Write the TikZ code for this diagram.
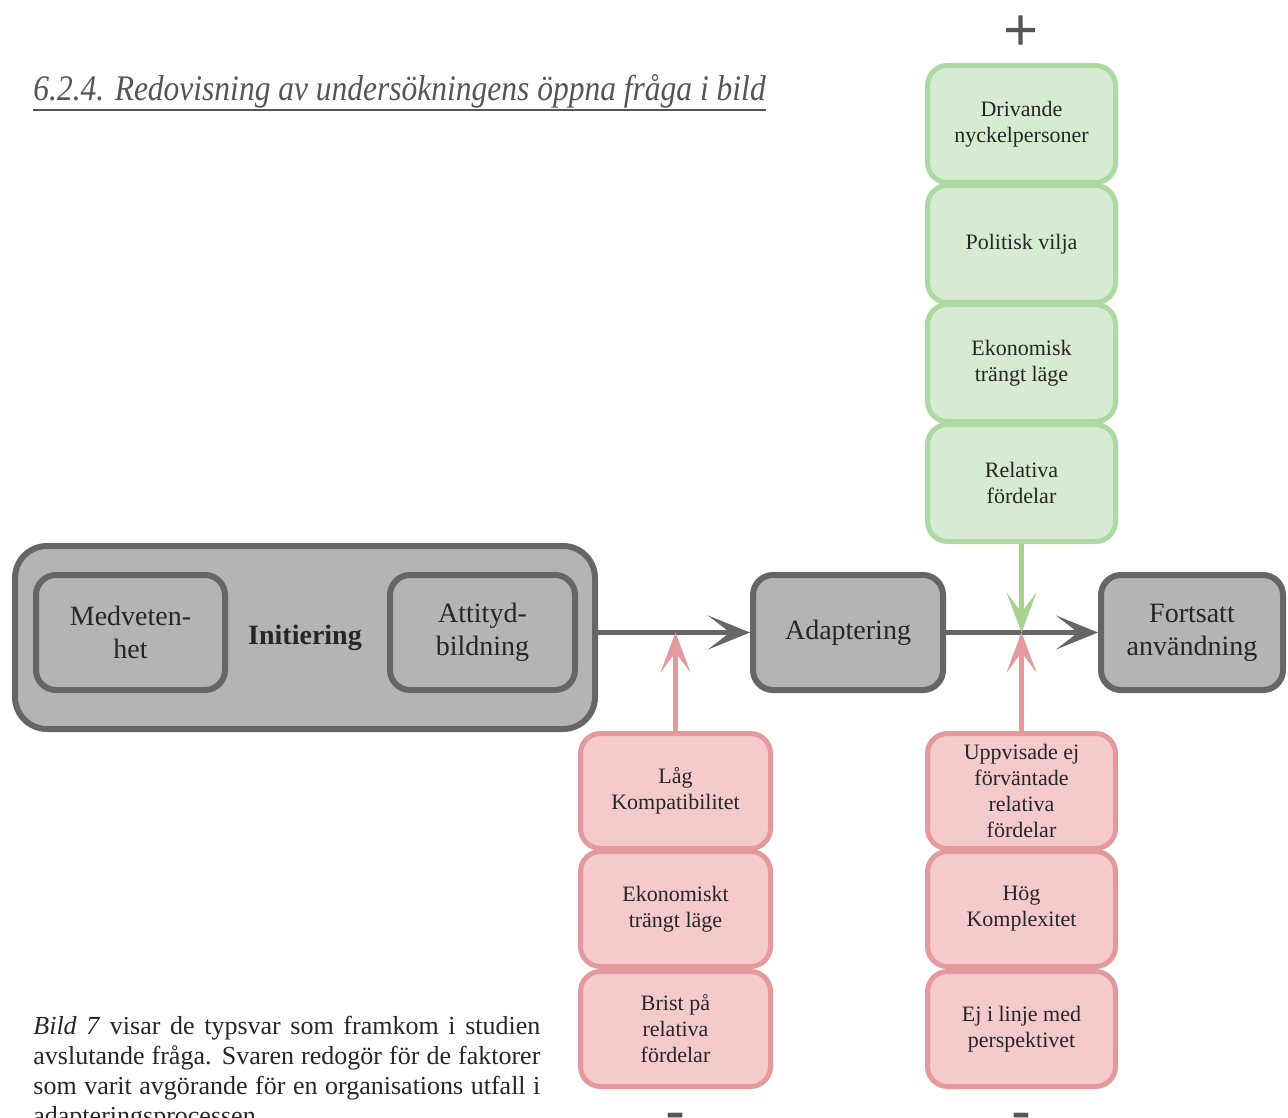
\documentclass[tikz,border=0pt]{standalone}
\usepackage{fontspec}
\setmainfont{Liberation Serif}
\newfontfamily\signfont{Liberation Sans}
\usetikzlibrary{arrows.meta}
\definecolor{gfill}{HTML}{B4B4B4}
\definecolor{gline}{HTML}{666666}
\definecolor{grfill}{HTML}{D6EBD1}
\definecolor{grline}{HTML}{ADD8A0}
\definecolor{grarrow}{HTML}{A5D38E}
\definecolor{rdfill}{HTML}{F4CACC}
\definecolor{rdline}{HTML}{E49A9D}
\definecolor{txt}{HTML}{262626}
\definecolor{headc}{HTML}{555555}
\begin{document}
\begin{tikzpicture}[x=0.5pt,y=-0.5pt,
  graybox/.style={draw=gline,fill=gfill,line width=3pt,rounded corners=10pt,
    text=txt,align=center,font=\fontsize{14}{16.5}\selectfont,inner sep=0pt,
    minimum width=94pt,minimum height=57.5pt},
  outerbox/.style={draw=gline,fill=gfill,line width=3pt,rounded corners=16pt,
    text=txt,align=center,font=\fontsize{14}{16.5}\selectfont\bfseries,inner sep=0pt,
    minimum width=290pt,minimum height=91.5pt},
  greenbox/.style={draw=grline,fill=grfill,line width=2.5pt,rounded corners=10pt,
    text=txt,align=center,font=\fontsize{11}{13}\selectfont,inner sep=0pt,
    minimum width=94pt,minimum height=58.5pt},
  redbox/.style={draw=rdline,fill=rdfill,line width=2.5pt,rounded corners=10pt,
    text=txt,align=center,font=\fontsize{11}{13}\selectfont,inner sep=0pt,
    minimum width=95pt,minimum height=57.5pt},
  grayarrow/.style={draw=gline,line width=2.5pt,-{Stealth[length=21pt,width=17pt,inset=11pt]}},
  greenarrow/.style={draw=grarrow,line width=2.5pt,-{Stealth[length=20pt,width=15pt,inset=10pt]}},
  redarrow/.style={draw=rdline,line width=2.5pt,-{Stealth[length=20pt,width=15pt,inset=10pt]}},
  signstyle/.style={font=\signfont\fontsize{30}{30}\selectfont,text=headc,inner sep=0pt}
]
\useasboundingbox (0,0) rectangle (1288,1117);

% heading
\node[anchor=base west,inner sep=0pt,text=headc,font=\fontsize{18}{20}\selectfont\itshape]
  (head) at (33,101) {\scalebox{0.875}[1]{6.2.4. Redovisning av undersökningens öppna fråga i bild}};
\draw[headc,line width=0.8pt] ([yshift=-4.5pt]head.base west) -- ([yshift=-4.5pt]head.base east);

% paragraph
\node[anchor=base west,inner sep=0pt,text width=253.5pt,align=justify,text=txt,
  font=\fontsize{13}{15}\selectfont] (para) at (33,1034)
  {\textit{Bild 7} visar de typsvar som framkom i studien\linebreak
   avslutande fråga. Svaren redogör för de faktorer\linebreak
   som varit avgörande för en organisations utfall i\linebreak
   adapteringsprocessen.};

% main chain
\node[outerbox] (init) at (305,637.5) {Initiering};
\node[graybox,minimum width=94.5pt] (medv) at (130.5,632.5) {Medveten-\\het};
\node[graybox,minimum width=92.5pt] (att) at (482.5,632.5) {Attityd-\\bildning};
\node[graybox,minimum width=95pt] (adapt) at (848,632.5) {Adaptering};
\node[graybox,minimum width=91pt] (fort) at (1192,632.5) {Fortsatt\\användning};

% green stack
\node[greenbox] (g1) at (1021.5,124) {Drivande\\nyckelpersoner};
\node[greenbox] (g2) at (1021.5,244) {Politisk vilja};
\node[greenbox] (g3) at (1021.5,363) {Ekonomisk\\trängt läge};
\node[greenbox] (g4) at (1021.5,483) {Relativa\\fördelar};

% red stacks
\node[redbox] (r1) at (675.5,791) {Låg\\Kompatibilitet};
\node[redbox] (r2) at (675.5,909) {Ekonomiskt\\trängt läge};
\node[redbox] (r3) at (675.5,1029) {Brist på\\relativa\\fördelar};
\node[redbox,minimum width=94pt] (s1) at (1021.5,791) {Uppvisade ej\\förväntade\\relativa\\fördelar};
\node[redbox,minimum width=94pt] (s2) at (1021.5,909) {Hög\\Komplexitet};
\node[redbox,minimum width=94pt] (s3) at (1021.5,1029) {Ej i linje med\\perspektivet};

% junctions
\coordinate (j1) at (675.5,632.5);
\coordinate (j2) at (1021.5,632.5);

% connectors
\draw[grayarrow] (adapt.west -| init.east) -- (adapt.west);
\draw[grayarrow] (adapt.east) -- (fort.west);
\draw[redarrow] (r1.north) -- (j1);
\draw[redarrow] (s1.north) -- (j2);
\draw[greenarrow] (g4.south) -- (j2);

% signs
\node[signstyle,anchor=base] (plus) at (1021.5,51) {+};
\node[signstyle,anchor=base] (minus1) at (675.5,1131) {-};
\node[signstyle,anchor=base] (minus2) at (1021.5,1131) {-};
\end{tikzpicture}
\end{document}
